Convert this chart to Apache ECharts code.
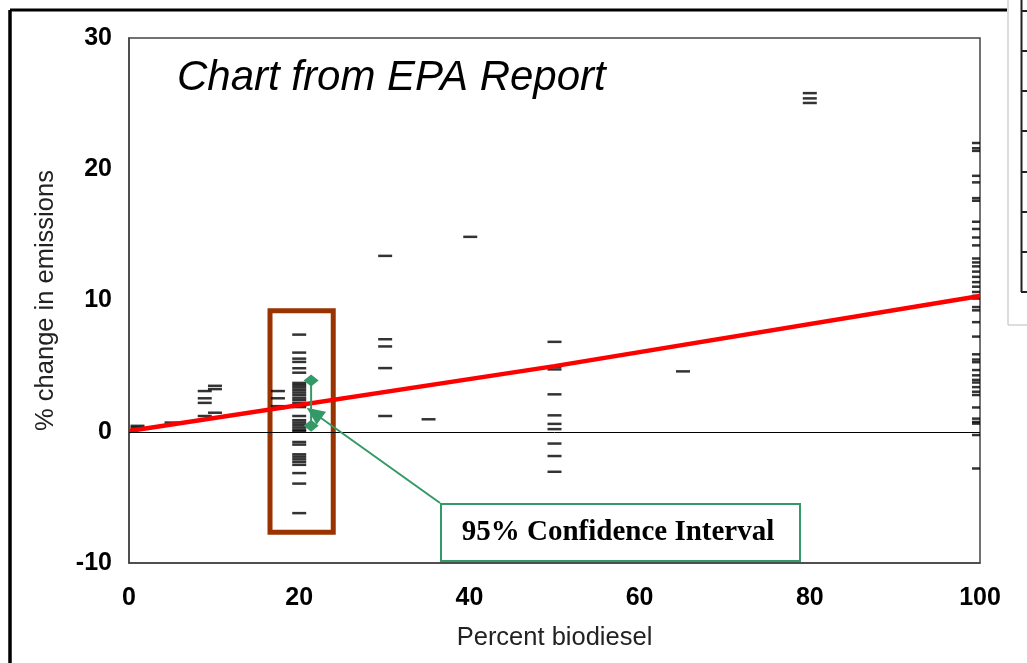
<!DOCTYPE html>
<html>
<head>
<meta charset="utf-8">
<script src="https://cdn.jsdelivr.net/npm/echarts@6/dist/echarts.min.js"></script>
<style>
html,body{margin:0;padding:0;background:#fff;}
#chart{width:1027px;height:663px;}
</style>
</head>
<body>
<div id="chart"></div>
<script>
// ---- data ----
const xTicks = [0, 20, 40, 60, 80, 100];
const yTicks = [-10, 0, 10, 20, 30];

// test results (% change in emissions) grouped by blend level (x)
const b1   = [0.45, 0.3];
const b5   = [0.7];
const b9   = [3.1, 2.55, 2.2, 1.2];
const b10  = [3.5, 3.25, 1.45];
const b17  = [3.1, 2.55, 1.95, 1.8];
const b20  = [7.4, 6.03, 5.57, 5.32, 4.84, 4.5, 3.72, 3.55, 3.38, 3.2, 3.0, 2.82, 2.6, 2.42, 2.2, 2.0, 1.88,
              1.2, 0.88, 0.7, 0.52, 0.33, 0.15, 0.02, -0.78, -0.98, -1.72, -1.9, -2.1, -2.3, -2.52,
              -3.15, -3.95, -6.2];
const b30  = [13.4, 7.05, 6.5, 4.85, 1.2];
const b35  = [0.95];
const b40  = [14.85];
const b50  = [6.85, 4.95, 4.75, 2.85, 1.25, 0.6, 0.2, -0.9, -1.85, -3.05];
const b65  = [4.6];
const b80  = [25.8, 25.4, 25.05];
const b100 = [22.0, 21.6, 21.4, 19.5, 19.0, 17.8, 17.6, 16.0, 15.45, 14.8, 14.2, 13.2, 12.9, 12.6, 12.2,
              11.8, 11.4, 11.05, 10.65, 10.35, 10.15, 9.5, 9.25, 8.35, 7.25, 5.9, 5.5, 5.3, 4.7, 4.3,
              3.95, 3.75, 3.4, 3.05, 2.8, 1.85, 1.0, 0.75, 0.62, -0.25, -2.8];

const groups = [[1, b1], [5, b5], [8.9, b9], [10.1, b10], [17.5, b17], [20, b20], [30.1, b30],
                [35.2, b35], [40.1, b40], [50, b50], [65.1, b65], [80, b80]];

// fitted trend line
const fitX = [0, 50, 100];
const fitY = [0.05, 5.0, 10.35];

// 95% confidence interval at B20
const ciX = 21.4;
const ciY = [3.9, 0.45];

// annotation geometry in data units
const highlightBox = [[16.57, 9.22], [24.0, -7.66]];
const arrowFrom = [36.55, -5.43];
const arrowTo = [21.74, 1.43];

// ---- build series data ----
const pts = [];
groups.forEach(([x, ys]) => ys.forEach(y => pts.push([x, y])));
const pts100 = b100.map(y => [100, y]);
const fitData = fitX.map((x, i) => [x, fitY[i]]);
const ciData = ciY.map(y => [ciX, y]);

const FONT = 'Liberation Sans, Arial, sans-serif';
const GREEN = '#339966';

const chart = echarts.init(document.getElementById('chart'), null, {renderer: 'canvas'});
chart.setOption({
  animation: false,
  backgroundColor: '#fff',
  textStyle: {fontFamily: FONT},
  title: {
    text: 'Chart from EPA Report',
    left: 172, top: 52,
    textStyle: {fontFamily: FONT, fontStyle: 'italic', fontWeight: 'normal', fontSize: 42, color: '#000'}
  },
  grid: {left: 129, right: 47, top: 38, bottom: 100, show: true, borderColor: '#444', borderWidth: 1.5, backgroundColor: '#fff'},
  xAxis: {
    type: 'value', min: xTicks[0], max: xTicks[xTicks.length - 1], interval: xTicks[1] - xTicks[0],
    axisLine: {show: true, onZero: false, lineStyle: {color: '#444', width: 1.5}},
    axisTick: {show: false}, splitLine: {show: false},
    axisLabel: {fontFamily: FONT, fontWeight: 'bold', fontSize: 25, color: '#000', margin: 23},
    name: 'Percent biodiesel', nameLocation: 'middle', nameGap: 62,
    nameTextStyle: {fontFamily: FONT, fontSize: 25.5, color: '#222'}
  },
  yAxis: {
    type: 'value', min: yTicks[0], max: yTicks[yTicks.length - 1], interval: yTicks[1] - yTicks[0],
    axisLine: {show: true, onZero: false, lineStyle: {color: '#444', width: 1.5}},
    axisTick: {show: false}, splitLine: {show: false},
    axisLabel: {fontFamily: FONT, fontWeight: 'bold', fontSize: 25, color: '#000', margin: 17},
    name: '% change in emissions', nameLocation: 'middle', nameGap: 70, nameRotate: 90,
    nameTextStyle: {fontFamily: FONT, fontSize: 25.5, color: '#222'}
  },
  series: [
    {
      type: 'scatter', name: 'tests', data: pts, symbol: 'rect', symbolSize: [14, 2.5],
      itemStyle: {color: '#000'}, z: 3, silent: true,
      markLine: {
        silent: true, symbol: 'none', label: {show: false},
        lineStyle: {color: '#000', width: 1, type: 'solid'},
        data: [{yAxis: 0}]
      },
      markArea: {
        silent: true, label: {show: false},
        itemStyle: {color: 'rgba(0,0,0,0)', borderColor: '#993300', borderWidth: 5},
        data: [[{coord: highlightBox[0]}, {coord: highlightBox[1]}]]
      }
    },
    {
      type: 'scatter', name: 'B100 tests', data: pts100, symbol: 'rect', symbolSize: [8, 2.5],
      symbolOffset: [-4, 0], itemStyle: {color: '#000'}, z: 3, silent: true
    },
    {
      type: 'line', name: 'fit', data: fitData, symbol: 'none', smooth: false,
      lineStyle: {color: '#ff0000', width: 4.5}, z: 4, silent: true
    },
    {
      type: 'line', name: '95% CI', data: ciData, symbol: 'diamond', symbolSize: [15, 12], showSymbol: true,
      lineStyle: {color: GREEN, width: 2}, itemStyle: {color: GREEN}, z: 5, silent: true,
      markLine: {
        silent: true, label: {show: false}, symbolSize: [16, 18],
        lineStyle: {color: GREEN, width: 2, type: 'solid'},
        data: [[{coord: arrowFrom, symbol: 'none'}, {coord: arrowTo, symbol: 'triangle'}]]
      }
    }
  ],
  graphic: [
    // annotation box
    {type: 'rect', left: 440, top: 503, z: 10,
     shape: {width: 359, height: 57}, style: {fill: '#fff', stroke: GREEN, lineWidth: 2}},
    {type: 'text', x: 618, y: 533, z: 11,
     style: {text: '95% Confidence Interval', font: 'bold 29px "Liberation Serif", "Times New Roman", serif',
             fill: '#000', textAlign: 'center', textVerticalAlign: 'middle'}},
    // outer frame
    {type: 'line', z: 10, shape: {x1: 10, y1: 10, x2: 1007, y2: 10}, style: {stroke: '#000', lineWidth: 3}},
    {type: 'line', z: 10, shape: {x1: 10, y1: 10, x2: 10, y2: 663}, style: {stroke: '#000', lineWidth: 3.5}},
    // partial legend table at right edge
    {type: 'line', z: 10, shape: {x1: 1008, y1: 0, x2: 1008, y2: 325}, style: {stroke: '#bbb', lineWidth: 1}},
    {type: 'line', z: 10, shape: {x1: 1008, y1: 325, x2: 1027, y2: 325}, style: {stroke: '#bbb', lineWidth: 1}},
    {type: 'line', z: 10, shape: {x1: 1021.5, y1: 0, x2: 1021.5, y2: 292}, style: {stroke: '#222', lineWidth: 2}},
    {type: 'line', z: 10, shape: {x1: 1021, y1: 292, x2: 1027, y2: 292}, style: {stroke: '#222', lineWidth: 2}},
    {type: 'line', z: 10, shape: {x1: 1021, y1: 11, x2: 1027, y2: 11}, style: {stroke: '#222', lineWidth: 2}},
    {type: 'line', z: 10, shape: {x1: 1021, y1: 51, x2: 1027, y2: 51}, style: {stroke: '#222', lineWidth: 2}},
    {type: 'line', z: 10, shape: {x1: 1021, y1: 91, x2: 1027, y2: 91}, style: {stroke: '#222', lineWidth: 2}},
    {type: 'line', z: 10, shape: {x1: 1021, y1: 131, x2: 1027, y2: 131}, style: {stroke: '#222', lineWidth: 2}},
    {type: 'line', z: 10, shape: {x1: 1021, y1: 172, x2: 1027, y2: 172}, style: {stroke: '#222', lineWidth: 2}},
    {type: 'line', z: 10, shape: {x1: 1021, y1: 212, x2: 1027, y2: 212}, style: {stroke: '#222', lineWidth: 2}},
    {type: 'line', z: 10, shape: {x1: 1021, y1: 252, x2: 1027, y2: 252}, style: {stroke: '#222', lineWidth: 2}}
  ]
});
</script>
</body>
</html>
